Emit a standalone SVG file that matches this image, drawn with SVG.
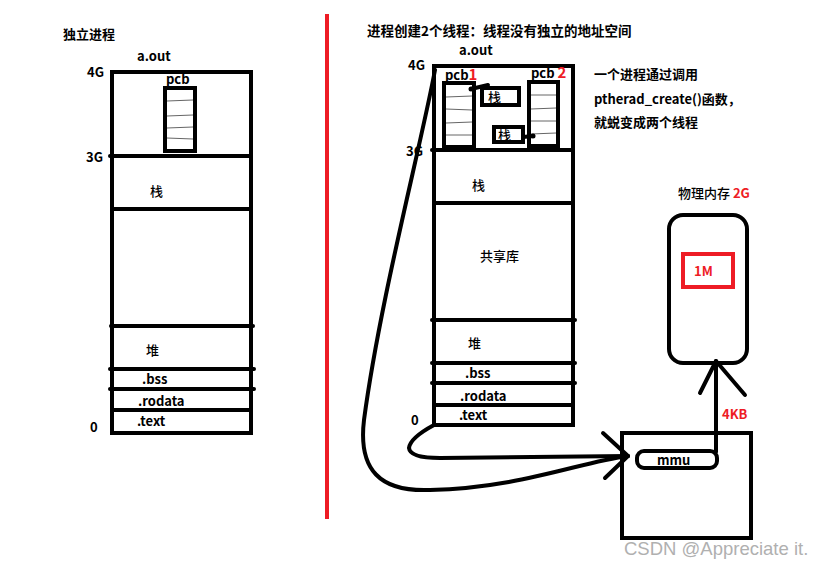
<svg xmlns="http://www.w3.org/2000/svg" width="827" height="567" viewBox="0 0 827 567">
<style>
.t{font-family:"Noto Sans CJK SC","Noto Sans",sans-serif;font-size:13px;font-weight:bold;fill:#000}
.n{font-family:"Noto Sans CJK SC","Noto Sans",sans-serif;font-size:13px;font-weight:500;fill:#000}
.r{fill:#ee1c25}
.b{fill:none;stroke:#000;stroke-width:4}
.l{stroke:#000;stroke-width:4;stroke-linecap:round}
.g{stroke:#666;stroke-width:1}
.c{fill:none;stroke:#000;stroke-width:4;stroke-linecap:round;stroke-linejoin:round}
</style>
<rect width="827" height="567" fill="#fff"/>

<g id="left-title"><text class="t" x="63" y="39">独立进程</text></g>
<g id="left-process">
<text class="t" x="137" y="61">a.out</text>
<text class="t" x="87" y="77">4G</text>
<text class="t" x="86" y="162">3G</text>
<text class="t" x="90" y="432">0</text>
<rect class="b" x="112" y="72" width="139" height="361"/>
<line class="l" x1="110" y1="156" x2="251" y2="156"/>
<line class="l" x1="112" y1="209" x2="251" y2="209"/>
<line class="l" x1="111" y1="326" x2="253" y2="326"/>
<line class="l" x1="110" y1="369" x2="254" y2="369"/>
<line class="l" x1="110" y1="389" x2="254" y2="389"/>
<line class="l" x1="112" y1="410" x2="251" y2="410"/>
<text class="n" x="150" y="196">栈</text>
<text class="n" x="146" y="355">堆</text>
<text class="t" x="142" y="384">.bss</text>
<text class="t" x="138" y="406">.rodata</text>
<text class="t" x="137" y="426">.text</text>
</g>
<g id="left-pcb">
<text class="t" x="166" y="84">pcb</text>
<rect class="b" x="165" y="88" width="30" height="63"/>
<line class="g" x1="167" y1="101" x2="193" y2="100"/>
<line class="g" x1="167" y1="116" x2="193" y2="115"/>
<line class="g" x1="167" y1="128" x2="193" y2="127"/>
<line class="g" x1="167" y1="138" x2="193" y2="139"/>
</g>

<g id="divider"><line x1="327" y1="14" x2="327" y2="519" stroke="#ee1c25" stroke-width="4"/></g>

<g id="right-title"><text class="t" x="367" y="36" style="font-size:13.5px">进程创建2个线程：线程没有独立的地址空间</text></g>
<g id="right-process">
<text class="t" x="459" y="55">a.out</text>
<text class="t" x="408" y="70">4G</text>
<text class="t" x="406" y="156">3G</text>
<text class="t" x="411" y="425">0</text>
<rect class="b" x="434" y="66" width="139" height="359"/>
<line class="l" x1="432" y1="150" x2="573" y2="150"/>
<line class="l" x1="434" y1="203" x2="573" y2="203"/>
<line class="l" x1="432" y1="320" x2="575" y2="320"/>
<line class="l" x1="432" y1="363" x2="575" y2="363"/>
<line class="l" x1="432" y1="383" x2="575" y2="383"/>
<line class="l" x1="434" y1="405" x2="573" y2="405"/>
<text class="n" x="472" y="190">栈</text>
<text class="n" x="480" y="261">共享库</text>
<text class="n" x="468" y="348">堆</text>
<text class="t" x="465" y="378">.bss</text>
<text class="t" x="460" y="401">.rodata</text>
<text class="t" x="459" y="420">.text</text>
</g>
<g id="pcb1">
<text class="t" x="445" y="80">pcb<tspan class="r" style="font-size:15px">1</tspan></text>
<rect class="b" x="444" y="83" width="30" height="64"/>
<line class="g" x1="446" y1="97" x2="472" y2="96"/>
<line class="g" x1="446" y1="109" x2="472" y2="110"/>
<line class="g" x1="446" y1="123" x2="472" y2="122"/>
<line class="g" x1="446" y1="135" x2="472" y2="135"/>
</g>
<g id="stack1">
<rect class="b" x="482" y="88" width="37" height="17"/>
<text class="n" x="488" y="102">栈</text>
</g>
<g id="pcb2">
<text class="t" x="531" y="78">pcb <tspan class="r" style="font-size:15px">2</tspan></text>
<rect class="b" x="529" y="82" width="29" height="64"/>
<line class="g" x1="531" y1="95" x2="556" y2="95"/>
<line class="g" x1="531" y1="109" x2="556" y2="108"/>
<line class="g" x1="531" y1="121" x2="556" y2="121"/>
<line class="g" x1="531" y1="134" x2="556" y2="133"/>
</g>
<g id="stack2">
<rect class="b" x="494" y="127" width="29" height="15"/>
<text class="n" x="498" y="140">栈</text>
</g>
<g id="note">
<text class="t" x="594" y="79">一个进程通过调用</text>
<text class="t" x="594" y="104">ptherad_create()函数，</text>
<text class="t" x="594" y="127">就蜕变成两个线程</text>
</g>
<g id="physical-memory">
<text class="n" x="678" y="198">物理内存 <tspan class="r" font-weight="bold">2G</tspan></text>
<rect class="b" x="669" y="215" width="78" height="148" rx="14"/>
<rect x="683" y="254" width="50" height="33" fill="none" stroke="#ee1c25" stroke-width="4"/>
<text class="t r" x="694" y="276">1M</text>
</g>
<g id="mmu">
<rect class="b" x="622" y="433" width="129" height="105"/>
<rect class="b" x="637" y="451" width="80" height="17" rx="7"/>
<text class="t" x="657" y="465">mmu</text>
</g>
<g id="watermark"><text x="624" y="555" font-family="Liberation Sans,Arial,sans-serif" font-size="18.5" fill="#b0b0b0">CSDN @Appreciate it.</text></g>

<g id="connectors">
<line class="l" x1="471" y1="89" x2="488" y2="85"/>
<circle cx="471" cy="89" r="2.5"/>
<line class="l" x1="523" y1="137" x2="533" y2="136"/>
<circle cx="533" cy="136" r="2.5"/>
<path class="c" d="M435 70 C420 150 380 300 364 420 C358 470 380 492 430 490 C520 488 580 462 628 456"/>
<path class="c" d="M434 425 Q410 438 409 448 Q410 458 440 458 L628 456"/>
<path class="c" d="M603 433 L628 456 L605 478"/>
<path class="c" d="M716 452 L716 361"/>
<path class="c" d="M700 393 L716 361 L745 395"/>
<text class="t r" x="722" y="419">4KB</text>
</g>
</svg>
